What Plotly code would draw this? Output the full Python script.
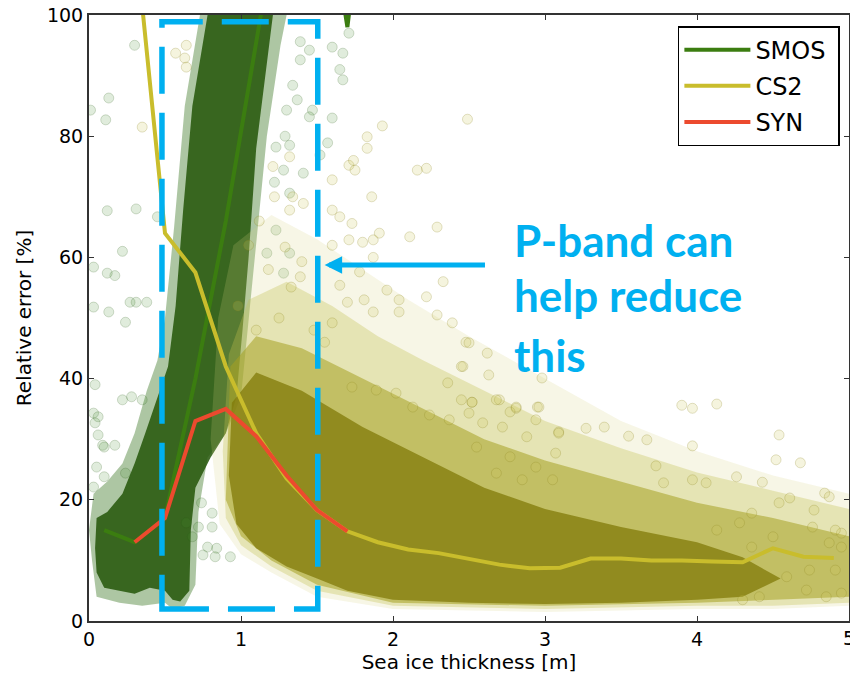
import plotly.graph_objects as go

# ---------------- data ----------------
# mean lines
smos_x = [0.1, 0.3, 0.5, 0.7, 0.9, 1.1, 1.3, 1.5, 1.7, 1.9]
smos_y = [15, 13, 17, 40, 66, 95, 125, 130, 98, 140]
cs2_x = [0.3, 0.5, 0.7, 0.9, 1.1, 1.3, 1.5, 1.7, 1.9, 2.1, 2.3, 2.5, 2.7, 2.9,
         3.1, 3.3, 3.5, 3.7, 3.9, 4.1, 4.3, 4.5, 4.7, 4.9]
cs2_y = [114, 64, 57.5, 42, 31, 23.5, 18.3, 14.8, 13, 11.8, 11.2, 10.2, 9.3, 8.7,
         8.8, 10.3, 10.3, 10, 10, 9.8, 9.7, 12, 10.6, 10.4]
syn_x = [0.3, 0.5, 0.7, 0.9, 1.1, 1.3, 1.5, 1.7]
syn_y = [13, 17, 33, 35, 30.5, 24, 18.3, 14.8]

# dense point-cloud envelopes
smos_halo_x = [0.0, 0.02, 0.05, 0.2, 0.35, 0.5, 0.55, 0.63, 0.7, 0.72, 0.78, 0.9, 1.0, 1.05,
               1.1, 1.17, 1.26, 1.3, 0.73, 0.63, 0.56, 0.5, 0.45, 0.38, 0.3, 0.22, 0.12, 0.03]
smos_halo_y = [15, 10, 4, 3, 2.5, 3, 2, 2.5, 6, 18, 27, 31, 37, 50,
               62, 80, 95, 100, 100, 85, 65, 50, 43, 38, 31, 26, 23, 21]
smos_core_x = [0.04, 0.05, 0.1, 0.2, 0.3, 0.4, 0.5, 0.55, 0.6, 0.66, 0.67, 0.7, 0.8, 0.9,
               0.97, 1.01, 1.05, 1.1, 1.17, 1.21, 0.78, 0.68, 0.62, 0.57, 0.52, 0.44,
               0.37, 0.3, 0.22, 0.12, 0.05]
smos_core_y = [12, 8, 5.5, 5, 4.5, 5.5, 5, 3.5, 3.2, 5, 15, 22, 27, 31,
               37, 48, 60, 78, 92, 100, 100, 85, 68, 52, 42, 36,
               31, 26, 21, 18, 17]

cs2_outer_x = [0.8, 0.85, 0.95, 1.2, 1.5, 1.8, 2.1, 2.5, 3.0, 3.5, 4.0, 4.5, 5.0,
               5.0, 4.5, 4.0, 3.0, 2.0, 1.5, 1.2, 1.0, 0.86]
cs2_outer_y = [30, 50, 62, 67, 63, 58, 53, 47, 40, 33, 28, 24, 21,
               2.5, 2, 2, 1.5, 2, 4, 8, 11, 16]
cs2_halo_x = [0.88, 0.92, 1.05, 1.3, 1.6, 1.9, 2.2, 2.6, 3.0, 3.5, 4.0, 4.5, 5.0,
              5.0, 4.5, 4.0, 3.0, 2.0, 1.5, 1.2, 1.0, 0.9]
cs2_halo_y = [28, 44, 53, 56, 52, 47, 43, 38, 33, 28.5, 24.5, 21.5, 18.5,
              3, 2.5, 2.5, 2, 2.5, 5, 9, 12.5, 17]
cs2_mid_x = [0.9, 0.93, 1.1, 1.4, 1.8, 2.2, 2.6, 3.0, 3.5, 4.0, 4.5, 5.0,
             5.0, 4.5, 4.0, 3.0, 2.0, 1.5, 1.2, 1.0]
cs2_mid_y = [20, 42, 47, 45, 40, 35, 30, 26.5, 23, 19.5, 17, 14,
             4, 3.5, 3, 2.5, 3, 6, 10, 14]
cs2_core_x = [0.92, 0.94, 1.1, 1.4, 1.8, 2.2, 2.6, 3.0, 3.5, 4.0, 4.3, 4.55,
              4.3, 4.0, 3.5, 3.0, 2.5, 2.0, 1.7, 1.5, 1.3, 1.1, 0.97]
cs2_core_y = [24, 36, 41, 38, 32, 27, 22, 18.5, 15.5, 13, 10.5, 7,
              4, 3.5, 3, 2.8, 3, 3.5, 5, 7, 9, 12, 16]

# individual sparse points
smos_pts_x = [0.30, 0.13, 0.11, 0.12, 0.31, 0.22, 0.03, 0.12, 0.17, 0.27, 0.31, 0.03, 0.13,
              0.24, 0.38, 0.45, 0.01, 1.39, 1.45, 1.60, 1.67, 1.71, 1.65, 1.67, 1.39, 1.34,
              1.30, 1.37, 1.47, 1.45, 1.60, 1.29, 1.32, 1.23, 1.28, 1.41, 1.22, 1.32, 1.57,
              1.52, 1.23, 1.17, 1.32, 1.28, 0.04, 0.03, 0.04, 0.06, 0.22, 0.28, 0.35, 0.10,
              0.17, 0.05, 0.10, 0.24, 0.03, 0.72, 0.81, 0.78, 0.84, 0.75, 0.83, 0.68, 0.81,
              0.74, 0.09, 0.64, 0.93, 0.06]
smos_pts_y = [95, 86.3, 82.7, 67.7, 68, 61, 58.4, 57.4, 57, 52.6, 52.6, 51.8, 51,
              49.3, 52.6, 66.7, 84.3, 95.6, 94.2, 94.7, 93.7, 97, 91, 89.3, 92.6, 88.4,
              84.3, 86, 84.3, 83.2, 83, 80, 78.5, 78.2, 74.4, 73.9, 72.4, 70.6, 78.9,
              76.9, 64.5, 60.7, 60.7, 57.4, 39, 34.3, 32.7, 30.7, 36.5, 37, 36.5, 28.7,
              29, 25.4, 23.8, 24.4, 22.1, 15.5, 15.5, 12.2, 12, 10.9, 10.6, 13.9, 17.8,
              19.5, 29, 16.2, 10.6, 33.7]

cs2_pts_x = [0.64, 0.57, 0.63, 0.64, 0.35, 1.93, 1.83, 1.83, 1.71, 1.75, 1.86, 2.16, 2.22,
             1.65, 1.73, 1.71, 1.80, 1.87, 1.91, 2.11, 1.60, 1.96, 1.78, 1.65, 1.40, 1.39,
             1.33, 1.29, 1.32, 1.41, 1.34, 1.22, 1.21, 1.32, 1.60, 1.60, 1.87, 2.04, 2.22,
             1.70, 1.60, 2.49, 2.29, 2.33, 2.29, 2.39, 1.74, 1.87, 2.04, 1.81, 2.48, 2.62,
             2.63, 2.46, 2.50, 2.45, 2.98, 2.36, 3.90, 3.97, 4.13, 4.54, 3.97, 3.39, 3.27,
             3.55, 3.67, 3.09, 2.95, 2.81, 2.70, 2.52, 2.77, 2.94, 4.68, 4.52, 4.43, 4.26,
             4.06, 3.97, 3.73, 3.78, 4.84, 4.87, 4.77, 4.61, 4.54, 4.95, 4.91, 4.76, 4.36,
             4.28, 4.13, 4.59, 4.72, 4.85, 4.95, 4.74, 4.91, 4.41, 4.30, 4.87, 4.95, 4.50,
             4.36, 1.05, 1.12, 1.18, 0.98, 1.10, 1.25, 1.48, 1.55,
             2.45, 2.52, 2.68, 2.81, 2.96, 3.09, 2.59, 2.72, 2.88, 2.50, 2.37, 2.24, 2.13,
             2.02, 1.89, 1.73, 2.77, 2.94, 3.05, 2.85, 2.68, 3.07, 2.55]
cs2_pts_y = [95, 93.7, 92.9, 91.4, 81.5, 81.7, 79.9, 78, 75.2, 74.4, 70, 74.4, 74.7,
             66.7, 65.6, 62.9, 62.5, 62.9, 64, 63.4, 62, 54.6, 57.6, 55.4, 59.3, 56.8,
             55.1, 61.7, 67.8, 68.9, 70, 70, 75, 76.6, 72.8, 67.8, 51, 51, 53.5,
             52.6, 49.2, 82.8, 65, 56, 50.5, 49.2, 76, 60, 53, 53, 46, 44.2,
             40.6, 42, 45.9, 42, 40.1, 39.3, 35.6, 35.1, 35.8, 30.7, 28.9, 32, 31.8,
             30.5, 29.9, 31.2, 35.3, 35.1, 36.5, 36.1, 34.5, 33.2, 26.1, 26.6, 22.9, 23.8,
             22.8, 23.3, 25.6, 22.8, 21.1, 20.5, 18.3, 20.3, 19.5, 14.5, 15, 15.5, 17.8,
             16.2, 15, 7.3, 5.1, 4, 4.6, 8.4, 8.4, 4, 3.5, 12.9, 12.2, 13.9,
             12.2, 62, 66, 58, 52, 48, 50, 48, 46,
             36.5, 36.1, 36.5, 35.3, 35.3, 31, 32.7, 32, 30.4, 34.3, 33.2, 34, 35.3,
             37.6, 38.1, 38.6, 27.1, 25.4, 23.3, 23.3, 24.4, 27.7, 28.7]

x_ticks = [0, 1, 2, 3, 4, 5]
y_ticks = [0, 20, 40, 60, 80, 100]

# ---------------- figure ----------------
fig = go.Figure()

def poly(xs, ys, color):
    fig.add_trace(go.Scatter(x=xs + xs[:1], y=ys + ys[:1], mode="lines", fill="toself",
                             fillcolor=color, line=dict(width=0), hoverinfo="skip",
                             showlegend=False))

# SMOS cloud
poly(smos_halo_x, smos_halo_y, "rgba(60,120,35,0.42)")
poly(smos_core_x, smos_core_y, "rgba(35,85,8,0.85)")
fig.add_trace(go.Scatter(x=smos_pts_x, y=smos_pts_y, mode="markers", showlegend=False,
                         marker=dict(size=10, color="rgba(70,140,50,0.17)",
                                     line=dict(color="rgba(40,90,20,0.25)", width=0.8)),
                         hoverinfo="skip"))
# CS2 cloud
poly(cs2_outer_x, cs2_outer_y, "rgba(215,210,130,0.2)")
poly(cs2_halo_x, cs2_halo_y, "rgba(195,190,80,0.33)")
poly(cs2_mid_x, cs2_mid_y, "rgba(165,160,35,0.55)")
poly(cs2_core_x, cs2_core_y, "rgba(128,122,8,0.75)")
fig.add_trace(go.Scatter(x=cs2_pts_x, y=cs2_pts_y, mode="markers", showlegend=False,
                         marker=dict(size=10, color="rgba(205,198,90,0.2)",
                                     line=dict(color="rgba(140,130,30,0.3)", width=0.8)),
                         hoverinfo="skip"))

# mean lines
fig.add_trace(go.Scatter(x=smos_x, y=smos_y, mode="lines", name="SMOS&nbsp;", legendgroup="a",
                         line=dict(color="#3b7d10", width=4)))
fig.add_trace(go.Scatter(x=cs2_x, y=cs2_y, mode="lines", name="CS2", legendgroup="b",
                         line=dict(color="#c9bd2c", width=4)))
fig.add_trace(go.Scatter(x=syn_x, y=syn_y, mode="lines", name="SYN", legendgroup="c",
                         line=dict(color="#ec4a2e", width=4)))

blue = "#00b0f0"
fig.add_shape(type="rect", x0=0.48, x1=1.505, y0=2.0, y1=98.9, xref="x", yref="y",
              line=dict(color=blue, width=5.5, dash="47px,19px"))

fig.add_annotation(x=1.55, y=58.75, ax=2.615, ay=58.75, xref="x", yref="y",
                   axref="x", ayref="y", showarrow=True, arrowhead=2, arrowsize=0.7,
                   arrowwidth=5, arrowcolor=blue, text="")

for txt, yy in [("P-band can", 62.8), ("help reduce", 53.8), ("this", 43.9)]:
    fig.add_annotation(x=2.78, y=yy, xref="x", yref="y", text="<b>%s</b>" % txt,
                       showarrow=False, xanchor="left", yanchor="middle",
                       font=dict(family="Lato", size=44, color=blue))

# last x tick label sits on the figure edge (partly cut, as in the original)
fig.add_annotation(x=x_ticks[-1], y=0, xref="x", yref="y", text=str(x_ticks[-1]),
                   showarrow=False, xanchor="center", yanchor="top", yshift=-4,
                   font=dict(family="DejaVu Sans", size=19, color="black"))

fig.update_layout(
    width=850, height=674,
    margin=dict(l=89, r=1, t=15, b=53),
    paper_bgcolor="white", plot_bgcolor="white",
    font=dict(family="DejaVu Sans", size=19, color="black"),
    showlegend=True,
    legend=dict(x=0.988, y=0.9818, xanchor="right", yanchor="top",
                bgcolor="white", bordercolor="black", borderwidth=1.5,
                traceorder="grouped", tracegroupgap=2,
                font=dict(size=24, color="black"), itemwidth=66),
)
fig.update_xaxes(range=[0, 5], tickvals=x_ticks, ticktext=[str(v) for v in x_ticks],
                 ticks="inside", ticklen=5, tickcolor="#333", showline=True,
                 linecolor="#333", linewidth=2, mirror="ticks", showgrid=False,
                 zeroline=False, automargin=False,
                 title=dict(text="Sea ice thickness [m]", font=dict(size=20), standoff=8))
fig.update_yaxes(range=[0, 100], tickvals=y_ticks, ticktext=[str(v) for v in y_ticks],
                 ticks="inside", ticklen=5, tickcolor="#333", showline=True,
                 linecolor="#333", linewidth=2, mirror="ticks", showgrid=False,
                 zeroline=False, automargin=False,
                 title=dict(text="Relative error [%]", font=dict(size=20), standoff=10))

fig.write_html("out.html", config={"displayModeBar": False},
               post_script="document.body.style.margin='0';document.body.style.overflow='hidden';")
